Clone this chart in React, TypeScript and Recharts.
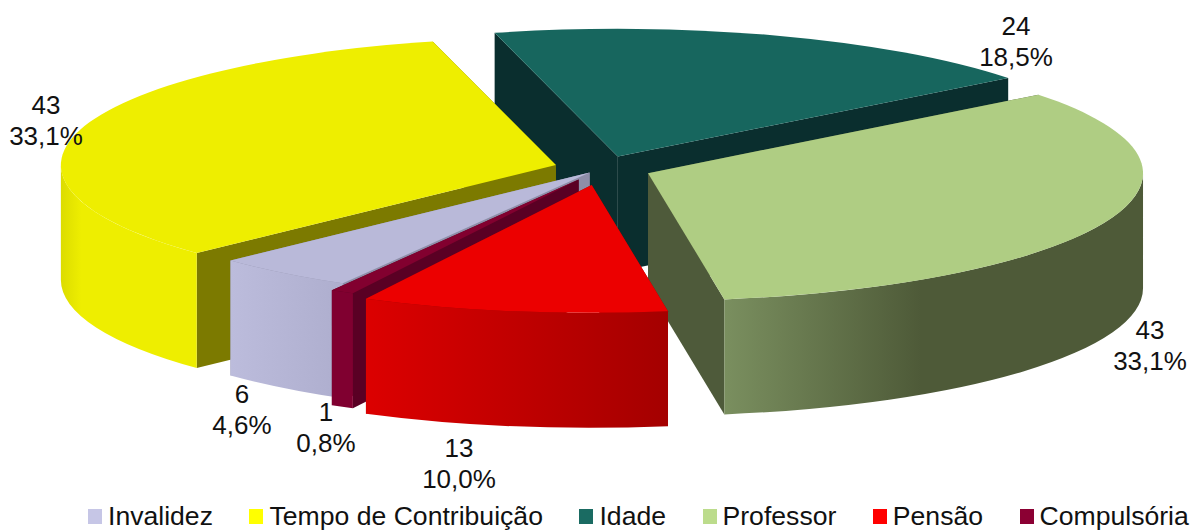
import { Legend, Pie, PieChart } from 'recharts';

const names = ['Invalidez', 'Tempo de Contribuição', 'Idade', 'Professor', 'Pensão', 'Compulsória'];
const counts = [6, 43, 24, 43, 13, 1];
const data = names.map((name, i) => ({ name, value: counts[i] }));

// back to front, slices overlap each other
const paintOrder = ['Idade', 'Tempo de Contribuição', 'Professor', 'Invalidez', 'Compulsória', 'Pensão'];

const FONT = '"Liberation Sans", Arial, sans-serif';
const CX = 602;
const CY = 168.5;
const RADIUS = 495;
const TILT = 0.258;
const DEPTH = 115;
const START = 240.1;

const explode: Record<string, number> = {
  Invalidez: 20,
  'Tempo de Contribuição': 48,
  Idade: 49,
  Professor: 49.5,
  Pensão: 65,
  Compulsória: 49,
};

const legendColors: Record<string, string> = {
  Invalidez: '#c6c6e6',
  'Tempo de Contribuição': '#ffff00',
  Idade: '#1a6b62',
  Professor: '#bcdc8c',
  Pensão: '#ff0000',
  Compulsória: '#8b0033',
};

const topColors: Record<string, string> = {
  Invalidez: '#b9b9d9',
  'Tempo de Contribuição': '#eeee00',
  Idade: '#17665e',
  Professor: '#afcd83',
  Pensão: '#ec0000',
  Compulsória: '#82002f',
};

const cutColors: Record<string, string> = {
  Invalidez: '#8e8ea8',
  'Tempo de Contribuição': '#7c7a00',
  Idade: '#0a2e2e',
  Professor: '#4e5a3a',
  Pensão: '#8c0000',
  Compulsória: '#5a0024',
};

// [offset, colour] stops for the curved wall, left to right
const wallStops: Record<string, [number, string][]> = {
  Invalidez: [[0, '#bcbcdc'], [1, '#aeaece']],
  'Tempo de Contribuição': [[0, '#dcdc00'], [0.15, '#eeee00'], [1, '#eeee00']],
  Idade: [[0, '#0a2e2e'], [1, '#0a2e2e']],
  Professor: [[0, '#7a8f5f'], [0.47, '#4e5a38'], [1, '#4e5a38']],
  Pensão: [[0, '#dc0000'], [1, '#a40000']],
  Compulsória: [[0, '#800030'], [1, '#800030']],
};

// label centre relative to the pie centre
const labelOffsets: Record<string, [number, number]> = {
  Invalidez: [-360, 234],
  'Tempo de Contribuição': [-556, -55],
  Idade: [414, -134],
  Professor: [548, 170],
  Pensão: [-143, 288],
  Compulsória: [-276, 252],
};

const rad = Math.PI / 180;

function Slice(props: any) {
  const { cx, cy, outerRadius, startAngle, endAngle, midAngle, name } = props;
  const d = explode[name];
  const ax = cx + d * Math.cos(midAngle * rad);
  const ay = cy - d * TILT * Math.sin(midAngle * rad);
  const ry = outerRadius * TILT;
  const pt = (a: number, down = 0) => ({
    x: ax + outerRadius * Math.cos(a * rad),
    y: ay - ry * Math.sin(a * rad) + down,
  });
  const s = pt(startAngle);
  const e = pt(endAngle);

  const cutWall = (p: { x: number; y: number }) =>
    `M${ax},${ay}L${p.x},${p.y}L${p.x},${p.y + DEPTH}L${ax},${ay + DEPTH}Z`;

  // only the part of the rim facing the viewer gets a wall
  const walls: [number, number][] = [];
  for (const [lo, hi] of [[180, 360], [-180, 0]]) {
    const from = Math.min(startAngle, hi);
    const to = Math.max(endAngle, lo);
    if (from > to) walls.push([from, to]);
  }
  const gradId = `wall-${names.indexOf(name)}`;
  const wallXs = walls.flatMap(([a, b]) => {
    const xs = [pt(a).x, pt(b).x];
    return xs;
  });

  return (
    <g>
      {wallXs.length > 0 && (
        <defs>
          <linearGradient
            id={gradId}
            gradientUnits="userSpaceOnUse"
            x1={Math.min(...wallXs)}
            x2={Math.max(...wallXs)}
            y1={0}
            y2={0}
          >
            {wallStops[name].map(([o, c]) => (
              <stop key={o} offset={o} stopColor={c} />
            ))}
          </linearGradient>
        </defs>
      )}
      <path d={cutWall(s)} fill={cutColors[name]} />
      <path d={cutWall(e)} fill={cutColors[name]} />
      {walls.map(([a, b]) => {
        const p1 = pt(a);
        const p2 = pt(b);
        return (
          <path
            key={a}
            d={`M${p1.x},${p1.y}A${outerRadius},${ry} 0 0 1 ${p2.x},${p2.y}L${p2.x},${p2.y + DEPTH}A${outerRadius},${ry} 0 0 0 ${p1.x},${p1.y + DEPTH}Z`}
            fill={`url(#${gradId})`}
          />
        );
      })}
      <path
        d={`M${ax},${ay}L${s.x},${s.y}A${outerRadius},${ry} 0 0 1 ${e.x},${e.y}Z`}
        fill={topColors[name]}
      />
    </g>
  );
}

function renderLabel(props: any) {
  const { cx, cy, name, value, percent } = props;
  const [dx, dy] = labelOffsets[name];
  const pct = (percent * 100).toFixed(1).replace('.', ',') + '%';
  return (
    <text x={cx + dx} y={cy + dy} textAnchor="middle" fontFamily={FONT} fontSize={26} fill="#111">
      <tspan x={cx + dx} dy={0}>{value}</tspan>
      <tspan x={cx + dx} dy={31}>{pct}</tspan>
    </text>
  );
}

function LegendRow() {
  return (
    <div style={{ display: 'flex', paddingLeft: 88, fontFamily: FONT, fontSize: 26.6, color: '#111', lineHeight: '30px' }}>
      {names.map((name) => (
        <div key={name} style={{ display: 'flex', alignItems: 'center', marginRight: 36.5 }}>
          <span style={{ width: 14, height: 15, background: legendColors[name], marginRight: 6 }} />
          <span style={{ whiteSpace: 'nowrap' }}>{name}</span>
        </div>
      ))}
    </div>
  );
}

export default function App() {
  return (
    <div style={{ position: 'absolute', left: 0, top: 0 }}>
      <PieChart width={1190} height={531} margin={{ top: 0, right: 0, bottom: 0, left: 0 }}>
        {paintOrder.map((layer) => (
          <Pie
            key={layer}
            data={data}
            dataKey="value"
            nameKey="name"
            cx={CX}
            cy={CY}
            outerRadius={RADIUS}
            startAngle={START}
            endAngle={START - 360}
            stroke="none"
            isAnimationActive={false}
            shape={(p: any) => (p.name === layer ? <Slice {...p} /> : <g />)}
          />
        ))}
        <Pie
          data={data}
          dataKey="value"
          nameKey="name"
          cx={CX}
          cy={CY}
          outerRadius={RADIUS}
          startAngle={START}
          endAngle={START - 360}
          stroke="none"
          isAnimationActive={false}
          shape={() => <g />}
          label={renderLabel}
          labelLine={false}
        />
        <Legend
          verticalAlign="bottom"
          align="left"
          content={() => <LegendRow />}
          wrapperStyle={{ left: 0, bottom: 0, width: 1190 }}
        />
      </PieChart>
    </div>
  );
}
